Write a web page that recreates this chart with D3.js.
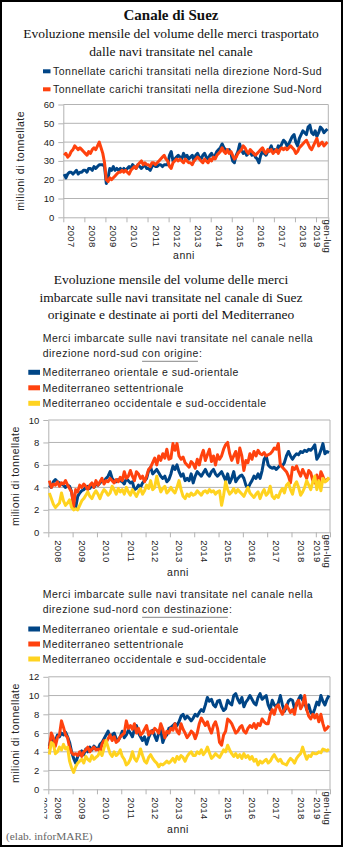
<!DOCTYPE html>
<html lang="it">
<head>
<meta charset="UTF-8">
<script src="https://cdn.jsdelivr.net/npm/d3@7"></script>
<title>Canale di Suez</title>
<style>
  body { margin: 0; background: #fff; }
  svg { display: block; }
  .serif { font-family: "Liberation Serif", "Times New Roman", serif; fill: #111; }
  .sans { font-family: "Liberation Sans", Arial, sans-serif; fill: #222; letter-spacing: 0.5px; }
  .tick text { font-family: "Liberation Sans", Arial, sans-serif; font-size: 9.5px; fill: #222; }
</style>
</head>
<body>
<svg id="chart" width="343" height="847"></svg>
<script>
// --- transito totale, milioni di tonnellate, gen 2007 - lug 2019
const nordSud = [
  23,21,23,24,24,23,24,25,23,24,24,25,
  25,24,26,26,25,27,26,27,28,28,28,27,
  18,21,26,25,27,25,26,25,26,25,26,25,
  26,27,26,28,27,26,28,27,26,27,28,26,
  26,25,27,28,27,27,28,28,27,28,28,28,
  33,35,30,31,32,33,32,31,34,32,33,31,
  32,33,30,33,34,32,31,33,34,32,31,33,
  34,32,33,35,36,37,39,37,36,35,36,34,
  30,29,33,35,39,36,34,35,33,34,35,33,
  34,32,31,29,33,35,34,33,35,36,38,35,
  36,35,38,37,39,41,40,38,39,41,43,44,
  40,38,42,44,46,45,44,48,49,45,44,46,
  43,45,48,47,45,46,47
];
const sudNord = [
  33,34,32,33,35,36,38,37,36,37,36,35,
  34,33,35,34,36,37,36,38,40,37,34,29,
  20,19,21,20,21,22,23,24,24,25,24,25,
  24,23,25,26,27,26,28,29,30,28,29,28,
  28,27,29,29,28,29,30,31,32,33,31,30,
  27,26,29,30,31,30,31,30,29,31,30,29,
  29,28,30,31,32,31,30,29,31,30,29,31,
  30,32,31,33,34,35,37,35,34,36,34,35,
  33,31,32,34,35,36,38,37,35,34,36,35,
  34,33,34,35,36,37,35,34,36,35,36,34,
  35,36,34,36,37,36,37,36,37,38,37,36,
  34,35,37,38,39,40,41,39,37,36,38,40,
  42,38,39,40,38,39,40
];

// --- direzione nord-sud, per area di origine, gen 2008 - lug 2019
const origOrientale = [
  4.2,4.0,4.5,4.7,4.5,4.4,4.3,4.2,4.0,4.2,4.1,3.6,
  2.5,2.2,3.2,3.5,3.7,3.8,4.0,4.1,3.9,4.2,4.0,4.3,
  4.2,4.4,4.6,4.5,4.8,5.0,5.4,4.8,4.6,4.5,4.7,4.6,
  4.5,4.3,4.8,4.6,4.4,4.5,3.8,3.9,4.2,4.0,4.4,4.6,
  4.8,5.5,5.8,5.2,5.4,5.6,5.3,5.0,4.8,5.0,4.5,4.7,
  5.2,5.9,5.6,6.0,5.4,5.0,5.2,4.6,4.8,4.6,5.2,4.4,
  5.0,5.4,5.2,5.0,5.3,5.6,5.2,5.0,5.4,5.6,5.2,5.0,
  5.2,5.4,5.0,4.6,5.2,4.4,4.8,5.4,4.5,4.8,5.0,5.1,
  4.8,4.2,3.9,4.3,4.6,5.0,4.8,5.2,4.8,5.5,6.5,6.8,
  6.0,5.8,5.7,5.8,5.6,5.8,6.0,5.9,6.2,6.8,7.2,6.8,
  6.5,6.8,7.0,6.9,7.2,7.1,7.3,7.2,7.4,7.3,7.5,7.8,
  6.5,6.8,7.3,7.9,7.0,7.2,7.1
];
const origSettentrionale = [
  4.6,4.0,4.3,4.2,4.5,4.1,4.4,4.3,4.6,4.2,3.9,3.6,
  2.3,3.8,3.6,4.2,4.0,4.3,4.1,3.8,4.2,4.4,4.0,4.6,
  4.2,4.5,4.8,4.3,4.6,4.5,4.8,4.6,4.4,4.7,4.5,4.9,
  4.6,5.4,4.8,5.0,5.5,5.0,4.6,5.4,5.2,4.8,5.0,4.5,
  5.0,5.6,5.8,6.2,6.6,6.0,6.8,6.4,7.0,6.6,7.4,6.5,
  6.6,7.9,7.3,7.9,6.8,6.5,6.7,6.2,6.0,5.8,6.3,6.1,
  5.7,6.5,6.0,6.8,7.3,6.4,6.9,7.4,6.3,6.8,6.0,6.9,
  6.5,6.8,7.4,7.8,8.0,7.0,6.4,6.8,7.2,6.2,7.5,6.8,
  5.5,6.4,6.2,7.0,6.5,7.2,6.8,7.3,7.0,6.9,7.1,6.8,
  6.9,7.0,7.2,7.5,7.4,7.9,6.0,5.8,5.6,5.4,5.0,4.4,
  5.8,5.6,5.9,5.4,5.0,5.6,5.2,4.8,5.5,5.3,4.6,4.4,
  5.1,4.3,5.4,5.0,4.5,4.7,4.8
];
const origOccidentale = [
  3.5,3.0,2.5,2.2,2.4,2.6,3.5,2.8,2.4,2.6,2.9,2.2,
  2.0,2.1,2.0,2.4,2.8,3.0,3.3,3.6,3.2,3.0,3.4,3.7,
  3.4,3.0,3.5,3.8,3.6,3.3,3.5,4.1,3.8,3.4,3.9,3.6,
  3.8,3.4,4.0,3.6,3.3,3.8,3.5,3.2,3.6,3.9,3.4,3.7,
  4.2,3.9,4.6,3.8,4.0,5.0,4.2,3.6,3.9,4.1,3.5,3.7,
  4.0,3.7,3.5,4.0,4.6,3.8,3.2,3.0,3.4,3.2,3.5,3.3,
  3.4,3.7,3.5,3.3,3.6,3.7,3.5,3.8,3.6,3.7,3.4,3.6,
  3.7,2.4,3.3,4.5,3.8,3.4,3.6,3.9,3.5,3.8,3.6,3.4,
  3.2,3.6,4.0,3.5,3.3,3.1,3.4,3.6,3.0,3.5,3.8,3.3,
  3.5,4.1,3.2,3.0,3.3,3.1,3.6,3.9,3.5,4.2,4.4,3.8,
  3.4,4.2,4.5,4.0,3.3,3.6,4.0,4.6,4.2,3.8,4.5,5.0,
  3.8,4.6,3.7,4.8,4.5,4.6,4.9
];

// --- direzione sud-nord, per area di destinazione, gen 2008 - lug 2019
const destOrientale = [
  4.6,5.5,5.0,5.2,5.8,5.6,6.0,5.8,6.1,5.6,5.0,4.0,
  3.3,2.8,3.5,3.8,4.1,3.7,4.3,4.0,4.5,4.2,4.6,4.4,
  4.3,4.8,5.0,5.4,5.8,6.2,5.5,5.8,6.0,5.4,5.2,5.6,
  6.2,5.5,5.8,6.3,6.0,5.6,6.4,6.8,6.0,5.6,5.2,5.6,
  4.8,5.5,6.0,6.3,5.7,5.2,6.0,6.3,5.0,5.6,5.8,6.5,
  6.6,6.8,7.0,6.8,7.2,7.8,8.0,7.5,7.8,7.6,7.3,7.6,
  8.0,7.8,8.2,8.5,8.3,9.0,9.8,9.4,9.6,9.0,8.8,9.4,
  9.5,8.8,8.4,8.6,9.5,9.2,9.0,10.0,10.2,9.6,9.2,9.8,
  8.8,9.3,9.6,10.0,9.6,9.2,9.0,9.8,10.2,9.6,9.8,10.0,
  9.0,8.5,9.5,9.0,8.8,9.2,10.0,9.0,8.3,8.8,9.4,9.6,
  9.5,8.6,9.0,9.6,10.0,9.5,9.3,8.5,9.0,8.2,8.0,8.6,
  9.3,9.0,10.0,9.4,9.0,9.6,10.0
];
const destSettentrionale = [
  4.3,6.0,5.5,4.6,5.5,5.8,7.3,6.6,5.8,5.5,4.5,3.9,
  3.7,3.8,3.6,4.0,3.5,4.0,4.2,4.5,4.0,4.3,4.5,4.2,
  4.3,4.0,4.8,5.2,5.0,5.4,5.8,5.2,5.6,5.0,5.2,5.6,
  5.8,6.0,7.3,6.5,6.8,6.4,7.0,6.0,6.5,5.8,6.0,6.4,
  6.8,5.8,6.2,6.0,6.5,6.3,6.0,7.0,6.4,5.5,6.2,6.0,
  6.5,6.3,7.0,6.2,5.9,7.0,6.4,6.0,5.5,5.8,6.2,6.0,
  5.4,6.0,7.0,7.6,7.2,6.8,7.2,6.5,6.0,6.8,7.2,6.5,
  5.0,4.7,5.8,6.2,7.5,7.3,7.0,6.5,6.0,6.2,6.6,6.8,
  6.2,6.0,6.5,6.8,6.6,7.0,6.5,7.0,6.8,7.5,7.2,7.0,
  7.0,8.0,8.5,8.0,8.8,9.0,8.4,8.0,8.5,9.0,8.6,8.2,
  8.5,8.0,9.2,9.5,8.6,9.0,10.0,8.5,7.8,7.5,8.0,7.6,
  8.0,7.2,8.0,7.0,6.3,6.5,6.8
];
const destOccidentale = [
  3.7,5.0,4.8,3.8,4.0,4.5,4.2,4.8,4.3,4.5,3.0,2.3,
  1.8,2.4,2.8,3.0,3.2,2.8,3.5,3.2,3.0,3.6,3.2,3.4,
  3.6,4.0,3.6,4.4,5.2,4.5,3.8,3.5,4.0,3.6,3.8,4.2,
  3.5,3.2,2.6,2.8,3.2,4.0,3.3,3.0,3.5,4.3,3.6,3.0,
  2.8,3.4,3.7,3.3,3.0,2.8,2.4,2.7,2.6,2.8,3.0,2.8,
  3.0,3.3,2.9,3.5,3.2,3.6,3.4,3.0,3.5,3.8,4.0,3.6,
  3.6,4.0,3.8,4.2,3.7,4.0,4.5,3.9,3.3,3.5,3.8,3.6,
  3.4,3.8,4.2,4.0,4.7,4.2,3.8,3.5,3.8,3.4,3.7,3.3,
  3.8,3.4,3.6,3.2,3.5,3.0,3.2,2.6,3.0,2.8,3.0,3.2,
  2.8,3.0,3.4,3.7,3.3,3.0,3.2,2.8,2.7,2.6,3.0,3.3,
  3.1,2.8,3.3,3.6,3.8,4.5,3.8,3.2,3.6,3.5,3.9,3.8,
  3.8,4.0,3.9,4.3,4.2,4.1,4.3
];

// etichette asse x e y
const anni1 = ["2007","2008","2009","2010","2011","2012","2013","2014","2015","2016","2017","2018","gen-lug|2019"];
const anni2 = ["2008","2009","2010","2011","2012","2013","2014","2015","2016","2017","2018","gen-lug|2019"];
const ticksY1 = [0, 10, 20, 30, 40, 50, 60];
const ticksY2 = [0, 2, 4, 6, 8, 10];
const ticksY3 = [0, 2, 4, 6, 8, 10, 12];

const legenda1 = ["Tonnellate carichi transitati nella direzione Nord-Sud",
                  "Tonnellate carichi transitati nella direzione Sud-Nord"];
const legendaAree = ["Mediterraneo orientale e sud-orientale",
                     "Mediterraneo settentrionale",
                     "Mediterraneo occidentale e sud-occidentale"];

const BLU = "#004586", ARANCIO = "#ff420e", GIALLO = "#ffd320", GRIGIO = "#b3b3b3";

const svg = d3.select("#chart");
svg.append("rect").attr("x", 1).attr("y", 1).attr("width", 341).attr("height", 845)
  .attr("fill", "#fff").attr("stroke", "#000").attr("stroke-width", 2);

// testo centrato su più righe
const titolo = (lines, y0, step, size, bold) => {
  lines.forEach((t, i) => {
    svg.append("text").attr("class", "serif")
      .attr("x", 171).attr("y", y0 + i * step)
      .attr("text-anchor", "middle")
      .style("font-size", size + "px")
      .style("font-weight", bold ? "bold" : "normal")
      .text(t);
  });
};

const legenda = (items, colors, x0, y0, step, mw, mh) => {
  items.forEach((t, i) => {
    const yc = y0 + i * step;
    svg.append("rect").attr("x", x0).attr("y", yc - mh / 2)
      .attr("width", mw).attr("height", mh).attr("fill", colors[i]);
    svg.append("text").attr("class", "sans")
      .attr("x", x0 + mw + 2.5).attr("y", yc + 3.8)
      .style("font-size", "10.5px").text(t);
  });
};

// intestazione con parte sottolineata
const sottotitolo = (riga1, pre, sott, post, x0, y0) => {
  svg.append("text").attr("class", "sans").attr("x", x0).attr("y", y0)
    .style("font-size", "10.5px").text(riga1);
  const t = svg.append("text").attr("class", "sans").attr("x", x0).attr("y", y0 + 14.5)
    .style("font-size", "10.5px");
  t.append("tspan").text(pre);
  t.append("tspan").text(sott);
  t.append("tspan").text(post);
  const node = t.node();
  const a = node.getSubStringLength(0, pre.length);
  const b = node.getSubStringLength(pre.length, sott.length);
  svg.append("line").attr("x1", x0 + a).attr("x2", x0 + a + b - 1)
    .attr("y1", y0 + 19).attr("y2", y0 + 19)
    .attr("stroke", "#888").attr("stroke-width", 1);
};

const pannello = p => {
  const n = p.series[0].length;
  const x = d3.scaleLinear().domain([0, n]).range([p.left, p.right]);
  const y = d3.scaleLinear().domain([0, p.yMax]).range([p.bottom, p.top]);
  const g = svg.append("g");

  // griglia orizzontale e bordo destro
  g.selectAll(".grid").data(p.ticks.filter(d => d > 0)).enter().append("line")
    .attr("x1", p.left).attr("x2", p.right)
    .attr("y1", d => y(d)).attr("y2", d => y(d))
    .attr("stroke", GRIGIO).attr("stroke-width", 1);
  g.append("line").attr("x1", p.right).attr("x2", p.right)
    .attr("y1", p.top).attr("y2", p.bottom).attr("stroke", GRIGIO);

  const ay = g.append("g").attr("transform", `translate(${p.left},0)`)
    .call(d3.axisLeft(y).tickValues(p.ticks).tickSize(5).tickPadding(4).tickSizeOuter(0));
  ay.selectAll("line, path").attr("stroke", GRIGIO);

  const yearStarts = d3.range(0, n, 12).concat([n]);
  const ax = g.append("g").attr("transform", `translate(0,${p.bottom})`)
    .call(d3.axisBottom(x).tickValues(yearStarts).tickSize(5).tickFormat("").tickSizeOuter(0));
  ax.selectAll("line, path").attr("stroke", GRIGIO);

  // etichette degli anni, ruotate
  const etichetta = (lab, cx, parent) => {
    const parts = lab.split("|");
    const t = parent.append("text").attr("class", "sans")
      .attr("transform", `translate(${cx},${p.bottom + 19}) rotate(90)`)
      .attr("text-anchor", "middle")
      .style("font-size", "9.5px").style("letter-spacing", "0.3px");
    parts.forEach((s, k) => {
      t.append("tspan").attr("x", 0)
        .attr("y", parts.length > 1 ? (k === 0 ? -1.5 : 8.5) : 3.4).text(s);
    });
  };
  p.labels.forEach((lab, i) => {
    const mid = lab.includes("|") ? i * 12 + (n - i * 12) / 2 : i * 12 + 4.8;
    etichetta(lab, x(mid), g);
  });

  // etichetta dell'anno precedente, tagliata dal bordo sinistro
  if (p.prevLabel) {
    const id = "clip" + Math.round(p.bottom);
    svg.append("clipPath").attr("id", id).append("rect")
      .attr("x", p.left - 4).attr("y", p.bottom + 5).attr("width", 8).attr("height", 30);
    etichetta(p.prevLabel, p.left - 4, g.append("g").attr("clip-path", `url(#${id})`));
  }

  // serie
  const line = d3.line().x((d, i) => x(i + 0.5)).y(d => y(d)).curve(d3.curveLinear);
  p.series.forEach((s, k) => {
    g.append("path").datum(s).attr("d", line)
      .attr("fill", "none").attr("stroke", p.colors[k])
      .attr("stroke-width", 3).attr("stroke-linejoin", "round");
  });

  // titoli degli assi
  g.append("text").attr("class", "sans")
    .attr("transform", `translate(${p.yTitleX},${(p.top + p.bottom) / 2}) rotate(-90)`)
    .attr("text-anchor", "middle").style("font-size", "10.5px")
    .text("milioni di tonnellate");
  g.append("text").attr("class", "sans")
    .attr("x", p.anniX).attr("y", p.anniY).attr("text-anchor", "middle")
    .style("font-size", "10.5px").text("anni");
};

// --- pannello 1
titolo(["Canale di Suez"], 20, 0, 15, true);
titolo(["Evoluzione mensile del volume delle merci trasportato",
        "dalle navi transitate nel canale"], 38, 18, 13.5, false);
legenda(legenda1, [BLU, ARANCIO], 43, 71.3, 18, 7.5, 4);
pannello({
  series: [nordSud, sudNord], colors: [BLU, ARANCIO],
  left: 63.3, right: 328.3, top: 104.5, bottom: 217.3,
  yMax: 60, ticks: ticksY1, labels: anni1,
  yTitleX: 24, anniX: 184, anniY: 259
});

// --- pannello 2
titolo(["Evoluzione mensile del volume delle merci",
        "imbarcate sulle navi transitate nel canale di Suez",
        "originate e destinate ai porti del Mediterraneo"], 284.3, 17.4, 13.5, false);
sottotitolo("Merci imbarcate sulle navi transitate nel canale nella",
            "direzione nord-sud ", "con origine", ":", 42.7, 342.3);
legenda(legendaAree, [BLU, ARANCIO, GIALLO], 28.3, 372.3, 15.5, 11.7, 5);
pannello({
  series: [origOrientale, origSettentrionale, origOccidentale],
  colors: [BLU, ARANCIO, GIALLO],
  left: 48.3, right: 330, top: 420, bottom: 532.3,
  yMax: 10, ticks: ticksY2, labels: anni2,
  yTitleX: 19, anniX: 178, anniY: 576
});

// --- pannello 3
sottotitolo("Merci imbarcate sulle navi transitate nel canale nella",
            "direzione sud-nord ", "con destinazione", ":", 42.7, 598.3);
legenda(legendaAree, [BLU, ARANCIO, GIALLO], 28.3, 629, 15, 11.7, 5);
pannello({
  series: [destOrientale, destSettentrionale, destOccidentale],
  colors: [BLU, ARANCIO, GIALLO],
  left: 48.3, right: 330, top: 676.8, bottom: 789.3,
  yMax: 12, ticks: ticksY3, labels: anni2, prevLabel: "2007",
  yTitleX: 19, anniX: 178, anniY: 833
});

svg.append("text").attr("class", "serif").attr("x", 6).attr("y", 840)
  .style("font-size", "11.3px").style("fill", "#666")
  .text("(elab. inforMARE)");
</script>
</body>
</html>
